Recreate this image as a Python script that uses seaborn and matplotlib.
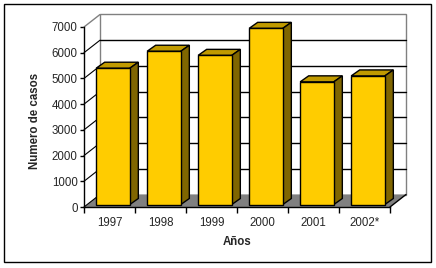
import pandas as pd
import seaborn as sns
import matplotlib
matplotlib.use("Agg")
import matplotlib.pyplot as plt
from matplotlib.patches import Polygon, Rectangle
from matplotlib.lines import Line2D
from matplotlib.transforms import offset_copy, IdentityTransform

# ---- data ----
years = ["1997", "1998", "1999", "2000", "2001", "2002*"]
cases = [5300, 5960, 5800, 6850, 4770, 5000]
yticks = [0, 1000, 2000, 3000, 4000, 5000, 6000, 7000]

# ---- style ----
sns.set_style("white")
plt.rcParams['font.family'] = ['Liberation Sans', 'DejaVu Sans']

W, H = 436, 268
fig = plt.figure(figsize=(W / 100, H / 100), dpi=100)
fig.patch.set_facecolor("white")

front_left, front_right, front_bottom, front_top = 84, 390, 207, 27
ax = fig.add_axes([front_left / W, (H - front_bottom) / H,
                   (front_right - front_left) / W, (front_bottom - front_top) / H])
ax.set_facecolor("none")

df = pd.DataFrame({"year": years, "cases": cases})
sns.barplot(data=df, x="year", y="cases", color="#FFCC00", saturation=1,
            width=0.66, edgecolor="black", linewidth=1, ax=ax)
bars = list(ax.patches)
ax.set_xlim(-0.5, len(years) - 0.5)
ax.set_ylim(0, 7000)
ax.set_autoscale_on(False)

DX, DY = 16, 12.5      # wall depth (pixels)
BX, BY = 3.5, 2.5      # bar front face depth offset
dx, dy = 8.5, 6        # bar depth

I = IdentityTransform()
T = ax.transData


def disp(x, y):
    return T.transform((x, y))


def add(artist, z):
    artist.set_transform(I)
    artist.set_clip_on(False)
    artist.set_zorder(z)
    ax.add_artist(artist)


xmin, xmax = ax.get_xlim()
# back wall
bl = disp(xmin, 0) + (DX, DY)
tr = disp(xmax, 7000) + (DX, DY)
add(Rectangle(bl, tr[0] - bl[0], tr[1] - bl[1], facecolor="white",
              edgecolor="#808080", linewidth=1), 0.5)
# left wall top edge
p = disp(xmin, 7000)
add(Line2D([p[0], p[0] + DX], [p[1], p[1] + DY], color="#808080", linewidth=1), 0.6)
# gridlines on back wall and left wall
for v in yticks[1:-1]:
    a = disp(xmin, v)
    b = disp(xmax, v)
    add(Line2D([a[0] + DX, b[0] + DX], [a[1] + DY, b[1] + DY],
               color="black", linewidth=1), 0.7)
    add(Line2D([a[0], a[0] + DX], [a[1], a[1] + DY], color="black", linewidth=0.8), 0.7)
# floor
a = disp(xmin, 0)
b = disp(xmax, 0)
add(Polygon([a, b, b + (DX, DY), a + (DX, DY)], closed=True,
            facecolor="#808080", edgecolor="none"), 0.8)
add(Line2D([b[0], b[0] + DX], [b[1], b[1] + DY], color="black", linewidth=1), 0.9)
add(Line2D([a[0], a[0] + DX], [a[1], a[1] + DY], color="black", linewidth=0.8), 0.9)

# bars: shift front faces and add top / side faces
shift = offset_copy(T, fig=fig, x=BX, y=BY, units='dots')
for pch in bars:
    x0, y0 = pch.get_x(), pch.get_y()
    x1, y1 = x0 + pch.get_width(), y0 + pch.get_height()
    pch.set_transform(shift)
    pch.set_clip_on(False)
    pch.set_zorder(3)
    p10 = shift.transform((x1, y0))
    p01 = shift.transform((x0, y1))
    p11 = shift.transform((x1, y1))
    top = [p01, p11, p11 + (dx, dy), p01 + (dx, dy)]
    side = [p10, p11, p11 + (dx, dy), p10 + (dx, dy)]
    add(Polygon(top, closed=True, facecolor="#C09A00", edgecolor="black", linewidth=1), 2.5)
    add(Polygon(side, closed=True, facecolor="#806600", edgecolor="black", linewidth=1), 2.5)

# axes styling
for s in ["top", "right"]:
    ax.spines[s].set_visible(False)
for s in ["left", "bottom"]:
    ax.spines[s].set_color("black")
    ax.spines[s].set_linewidth(1)
    ax.spines[s].set_zorder(4)

ax.set_yticks(yticks)
ax.set_yticklabels([str(v) for v in yticks])
ax.tick_params(axis="y", which="major", direction="out", length=3, width=1,
               color="black", labelsize=8.3, pad=1.5, left=True)
ax.set_xticks(range(len(years)))
ax.set_xticklabels(years)
ax.set_xticks([i + 0.5 for i in range(-1, len(years))], minor=True)
ax.tick_params(axis="x", which="major", length=0, labelsize=8.3, pad=7.5)
ax.tick_params(axis="x", which="minor", direction="out", length=4, width=1,
               color="black", bottom=True)

ax.set_xlabel("Años", fontsize=8.3, fontweight="bold", labelpad=5)
ax.set_ylabel("Numero de casos", fontsize=8.3, fontweight="bold")
ax.yaxis.set_label_coords(-0.139, 0.478)

# outer frame
fig.add_artist(Rectangle((4, H - 262), 427, 258, facecolor="none", edgecolor="black",
                         linewidth=1, transform=I, zorder=10))

fig.savefig("out.png", dpi=100)
